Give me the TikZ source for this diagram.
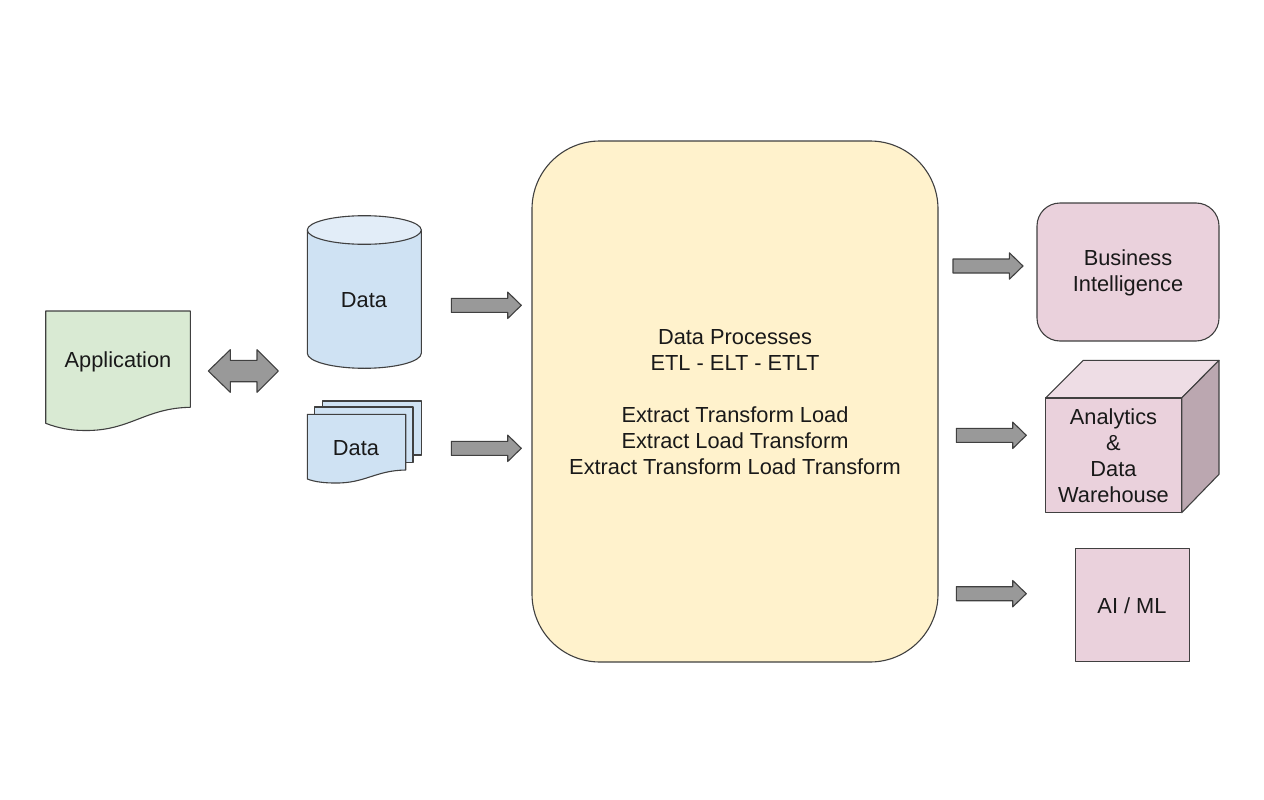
\documentclass[tikz,border=0pt]{standalone}
\usepackage{fontspec}
\setmainfont{Liberation Sans}
\tikzset{
  x=1pt,y=-1pt,
  shapeline/.style={draw=black!75,line width=1.1pt,line join=round},
  greenfill/.style={shapeline,fill=green1},
  bluefill/.style={shapeline,fill=blue1},
  pinkfill/.style={shapeline,fill=pink1},
  blockarrow/.style={shapeline,fill=arrowgrey},
  label/.style={align=center,font=\fontsize{21.8}{26}\selectfont,text=black!90,inner sep=0pt},
}
\definecolor{green1}{HTML}{D9EAD3}
\definecolor{blue1}{HTML}{CFE2F3}
\definecolor{bluetop}{HTML}{E2EDF8}
\definecolor{yellow1}{HTML}{FFF2CC}
\definecolor{pink1}{HTML}{EAD1DC}
\definecolor{pinktop}{HTML}{EEDDE5}
\definecolor{pinkside}{HTML}{BBA7B0}
\definecolor{arrowgrey}{HTML}{999999}
\newcommand{\rightblock}[2]{%
  \draw[blockarrow] (#1,#2-7) -- (#1+56.4,#2-7) -- (#1+56.4,#2-13.2) -- (#1+70,#2) -- (#1+56.4,#2+13.2) -- (#1+56.4,#2+7) -- (#1,#2+7) -- cycle;}
\begin{document}
\begin{tikzpicture}
\useasboundingbox (0,0) rectangle (1264,800);
% Application
\draw[greenfill] (45.7,311) -- (190.3,311) -- (190.3,407.3)
  .. controls (145,408) and (130,431) .. (85,430.5)
  .. controls (70,430.5) and (58,428) .. (45.7,423.3) -- cycle;
\node[label] (app) at (118,362) {Application};
% double arrow
\draw[blockarrow] (208.3,371) -- (230.3,349.7) -- (230.3,360.3) -- (257,360.3) -- (257,349.7) -- (278.3,371)
  -- (257,392.3) -- (257,381.7) -- (230.3,381.7) -- (230.3,392.3) -- cycle;
% Cylinder
\draw[bluefill] (307.3,230) -- (307.3,353.3) .. controls (307.3,361.5) and (332.8,368.3) .. (364.3,368.3)
  .. controls (395.8,368.3) and (421.3,361.5) .. (421.3,353.3) -- (421.3,230) -- cycle;
\draw[shapeline,fill=bluetop] (364.3,230) ellipse [x radius=57,y radius=14.3];
\node[label] (dbdata) at (364,300.5) {Data};
% Multi document
\draw[bluefill] (322.3,401) -- (421.3,401) -- (421.3,455) -- (322.3,455) -- cycle;
\draw[bluefill] (314.3,407) -- (413,407) -- (413,462.3) -- (314.3,462.3) -- cycle;
\draw[bluefill] (307.3,414.3) -- (405.7,414.3) -- (405.7,470)
  .. controls (375,470.5) and (365,483.5) .. (335,483)
  .. controls (325,483) and (315,482) .. (307.3,479) -- cycle;
\node[label] (filedata) at (356,448.5) {Data};
% Block arrows
\rightblock{451.3}{305.3}
\rightblock{451.3}{448.3}
\rightblock{953}{266}
\rightblock{956.3}{435.3}
\rightblock{956.3}{593.7}
% Process
\draw[shapeline,fill=yellow1,rounded corners=68pt] (532,141) rectangle (938,662);
\node[label] (process) at (735,402.5) {Data Processes\\ETL - ELT - ETLT\\\mbox{}\\Extract Transform Load\\Extract Load Transform\\Extract Transform Load Transform};
% BI
\draw[pinkfill,rounded corners=23pt] (1037,203) rectangle (1219,341);
\node[label] (bi) at (1128,272.5) {Business\\Intelligence};
% Cube
\draw[shapeline,fill=pinktop] (1045.7,398) -- (1083.3,360.3) -- (1219,360.3) -- (1181.7,398) -- cycle;
\draw[shapeline,fill=pinkside] (1181.7,398) -- (1219,360.3) -- (1219,474.3) -- (1181.7,512.7) -- cycle;
\draw[pinkfill] (1045.7,398) rectangle (1181.7,512.7);
\node[label] (dw) at (1113.5,456) {Analytics\\\&\\Data\\Warehouse};
% AI
\draw[pinkfill] (1075.3,548.3) rectangle (1189.8,661.8);
\node[label] (ai) at (1132,605.5) {AI / ML};
\end{tikzpicture}
\end{document}
